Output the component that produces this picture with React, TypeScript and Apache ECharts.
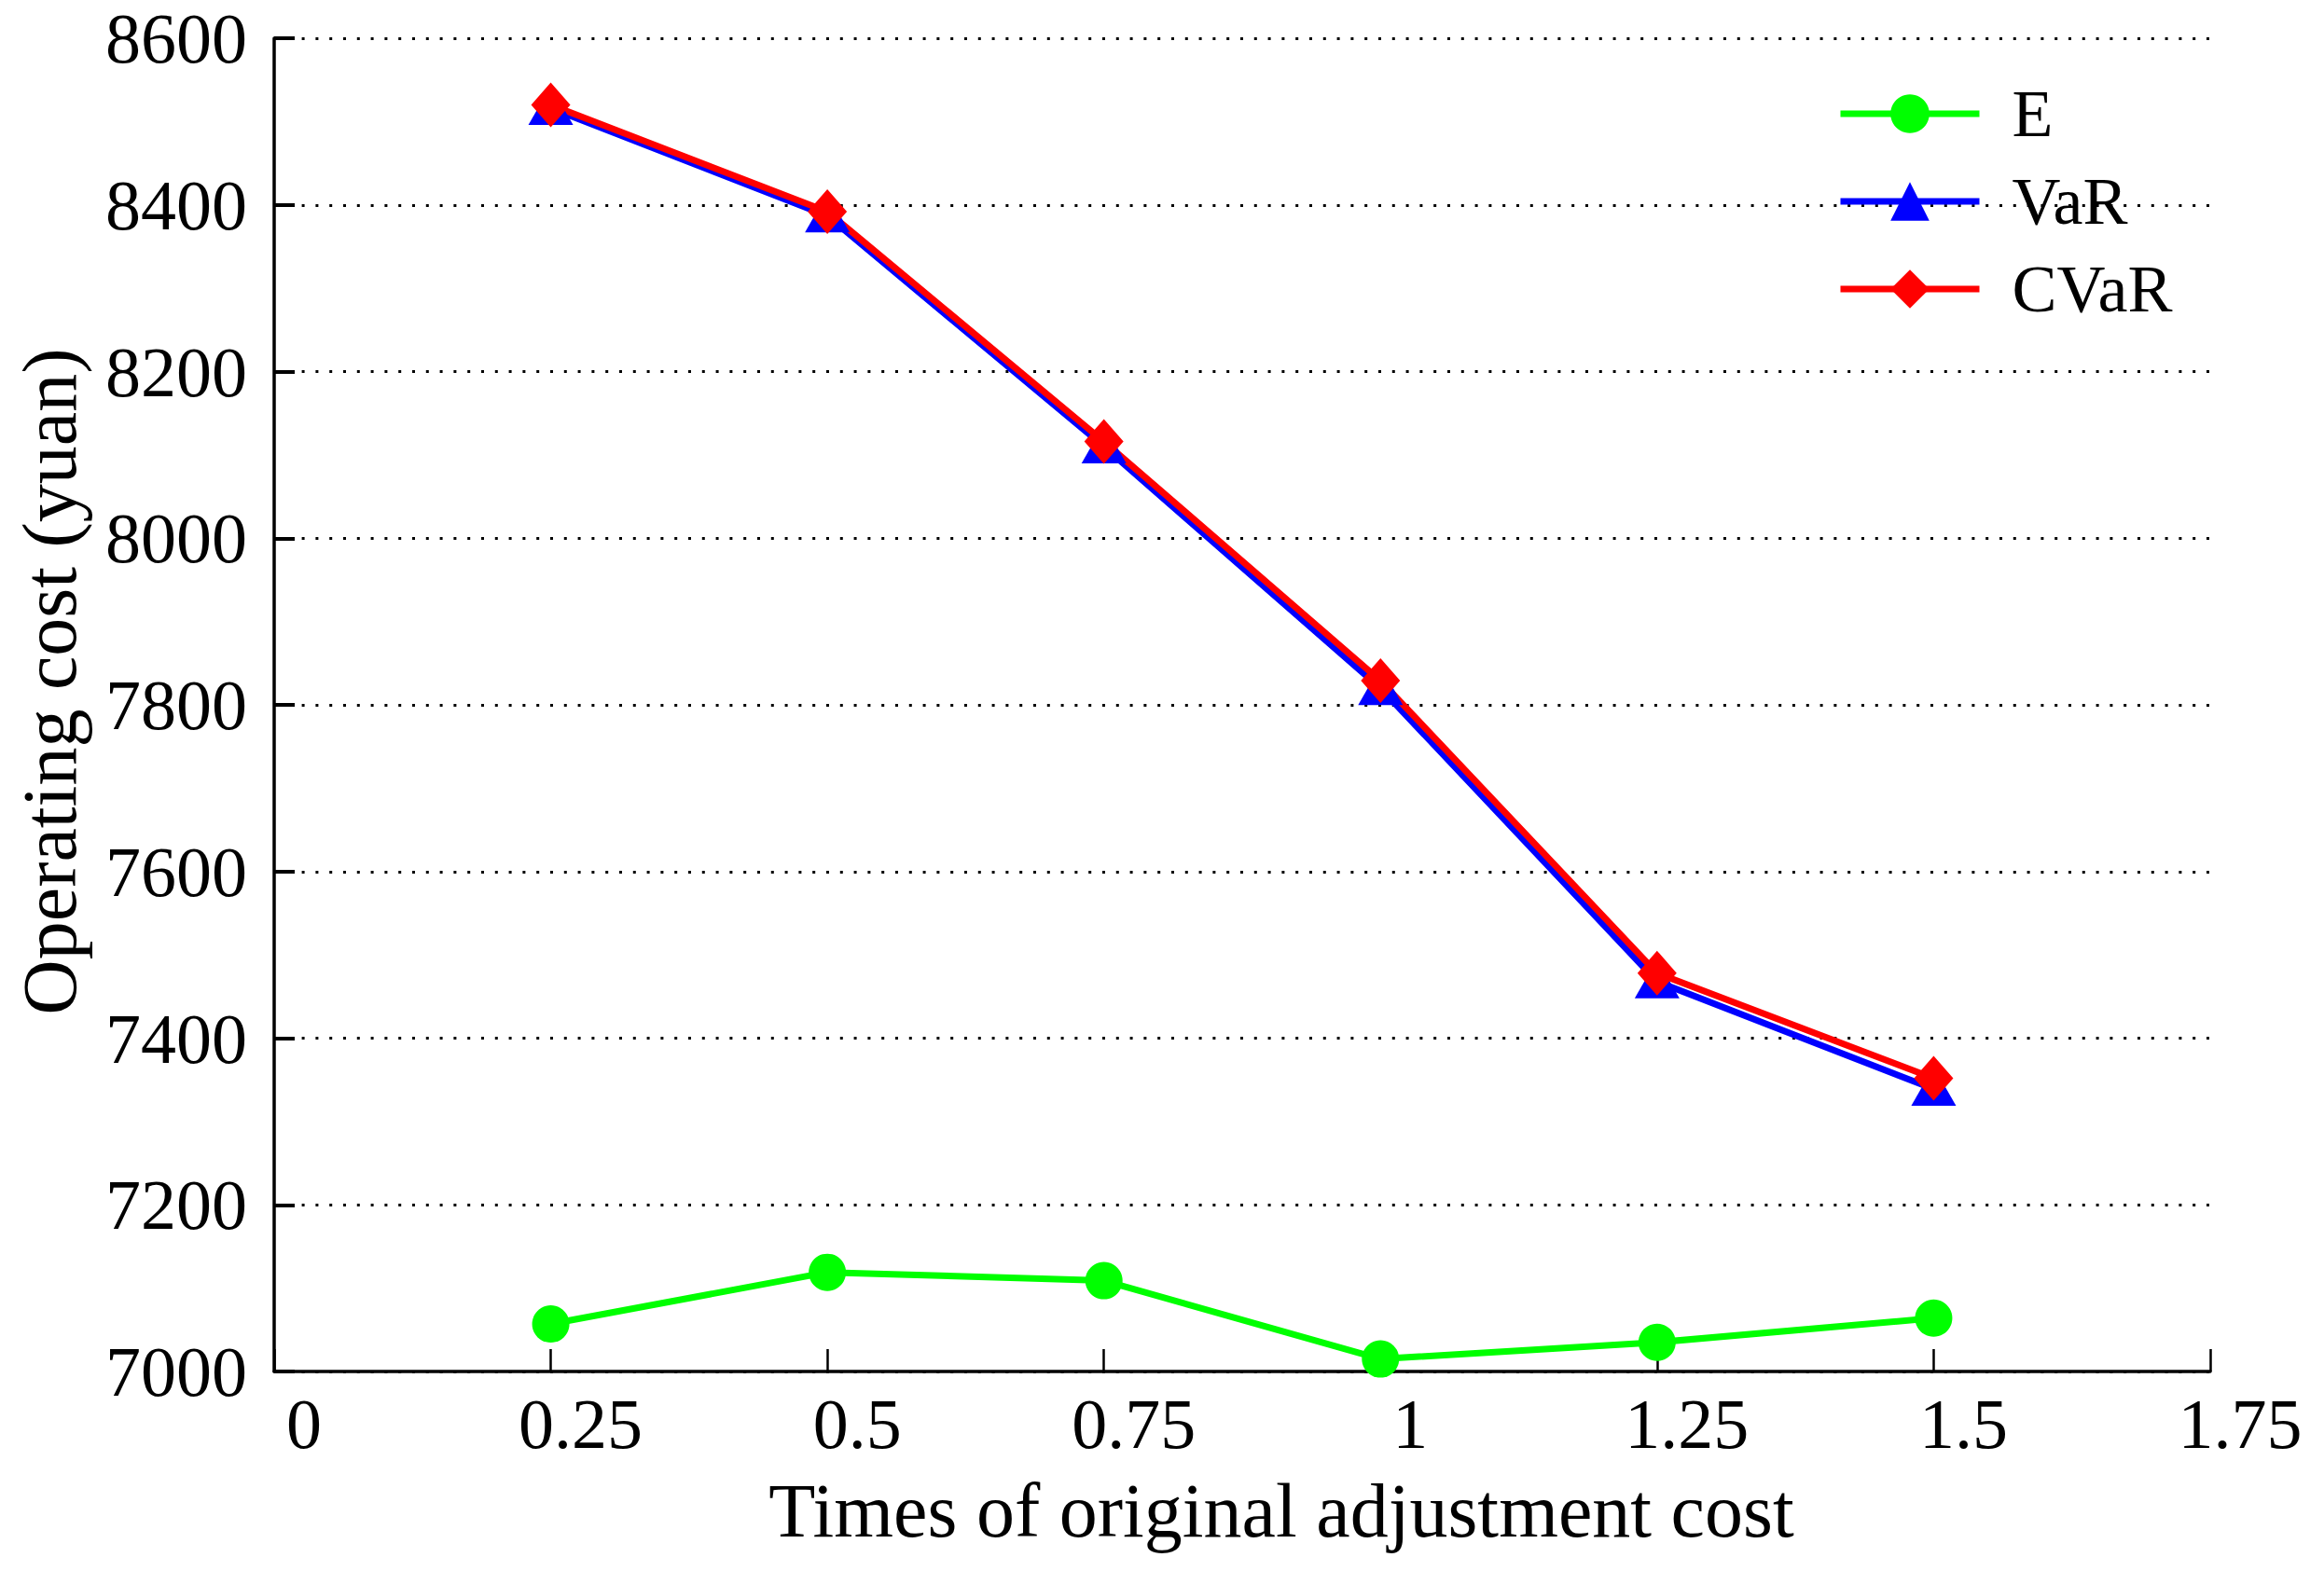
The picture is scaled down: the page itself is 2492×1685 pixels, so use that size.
import React, { useEffect, useRef } from "react";
import * as echarts from "echarts";

const xValues = [0.25, 0.5, 0.75, 1, 1.25, 1.5];
const seriesE = [7057, 7119, 7109, 7015, 7035, 7064];
const seriesVaR = [8516, 8387, 8110, 7820, 7468, 7339];
const seriesCVaR = [8520, 8392, 8116, 7829, 7478, 7352];
const seriesNames = ["E", "VaR", "CVaR"];
const xTitle = "Times of original adjustment cost";
const yTitle = "Operating cost (yuan)";

const FONT = "'Liberation Serif', 'Times New Roman', serif";

export default function App() {
  const ref = useRef<HTMLDivElement>(null);
  useEffect(() => {
    if (!ref.current) return;
    const chart = echarts.init(ref.current, null, { renderer: "svg" });
    const pair = (ys: number[]) => xValues.map((x, i) => [x, ys[i]]);
    chart.setOption({
      animation: false,
      backgroundColor: "#ffffff",
      textStyle: { fontFamily: FONT },
      grid: { left: 294, top: 41, width: 2076, height: 1430, containLabel: false },
      legend: {
        orient: "vertical",
        left: 1970,
        top: 86,
        padding: 0,
        itemWidth: 149,
        itemHeight: 52,
        itemGap: 22,
        data: seriesNames,
        lineStyle: { width: 7 },
        textStyle: { fontFamily: FONT, fontSize: 72, color: "#000", padding: [0, 0, 0, 30] },
      },
      xAxis: {
        type: "value",
        min: 0,
        max: 1.75,
        interval: 0.25,
        name: xTitle,
        nameLocation: "middle",
        nameGap: 108,
        nameTextStyle: { fontFamily: FONT, fontSize: 82, color: "#000", padding: [0, 0, 0, 84] },
        axisLine: { show: true, lineStyle: { color: "#000", width: 3.5 } },
        axisTick: { show: true, inside: true, length: 24, lineStyle: { color: "#000", width: 2.5 } },
        axisLabel: {
          fontFamily: FONT,
          fontSize: 76,
          color: "#000",
          margin: 18,
          padding: [0, 0, 0, 64],
          formatter: (v: number) => String(v),
        },
        splitLine: { show: false },
      },
      yAxis: {
        type: "value",
        min: 7000,
        max: 8600,
        interval: 200,
        name: yTitle,
        nameLocation: "middle",
        nameGap: 200,
        nameTextStyle: { fontFamily: FONT, fontSize: 82, color: "#000", padding: [0, 0, 0, 50] },
        axisLine: { show: true, lineStyle: { color: "#000", width: 3.5 } },
        axisTick: { show: true, inside: true, length: 22, lineStyle: { color: "#000", width: 4 } },
        axisLabel: {
          fontFamily: FONT,
          fontSize: 76,
          color: "#000",
          margin: 29,
          formatter: (v: number) => String(v),
        },
        splitLine: { show: true, lineStyle: { color: "#000", width: 3, type: [3, 11.8] } },
      },
      series: [
        {
          name: seriesNames[0],
          type: "line",
          data: pair(seriesE),
          symbol: "circle",
          symbolSize: 40,
          lineStyle: { color: "#00ff00", width: 7 },
          itemStyle: { color: "#00ff00" },
        },
        {
          name: seriesNames[1],
          type: "line",
          data: pair(seriesVaR),
          symbol: "triangle",
          symbolSize: [48, 42],
          symbolOffset: [0, -3],
          lineStyle: { color: "#0000ff", width: 7 },
          itemStyle: { color: "#0000ff" },
        },
        {
          name: seriesNames[2],
          type: "line",
          data: pair(seriesCVaR),
          symbol: "diamond",
          symbolSize: [42, 48],
          lineStyle: { color: "#ff0000", width: 7 },
          itemStyle: { color: "#ff0000" },
        },
      ],
    });
    return () => chart.dispose();
  }, []);
  return (
    <div
      ref={ref}
      style={{ position: "fixed", left: 0, top: 0, width: 2492, height: 1685, background: "#fff" }}
    />
  );
}
